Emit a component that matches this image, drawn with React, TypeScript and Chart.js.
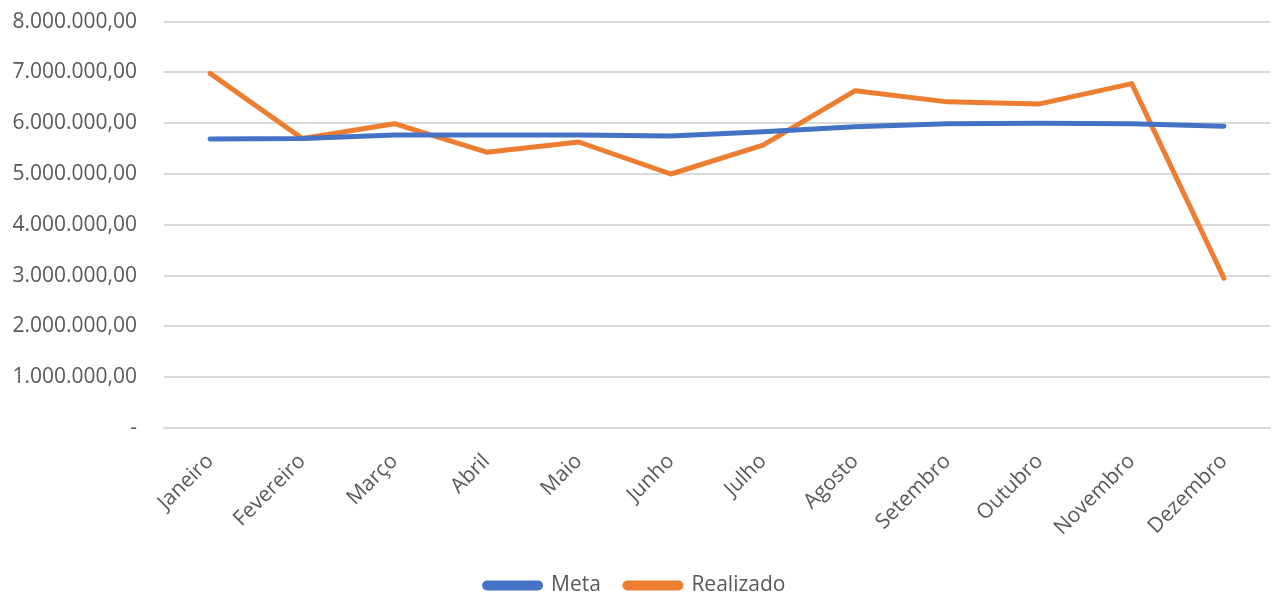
import React, { useEffect, useRef } from "react";
import { Chart, registerables } from "chart.js";

Chart.register(...registerables);

const months = ["Janeiro", "Fevereiro", "Março", "Abril", "Maio", "Junho", "Julho", "Agosto", "Setembro", "Outubro", "Novembro", "Dezembro"];
const meta = [5690000, 5700000, 5770000, 5770000, 5770000, 5750000, 5830000, 5930000, 5990000, 6000000, 5990000, 5940000];
const realizado = [6980000, 5700000, 5990000, 5430000, 5630000, 5000000, 5570000, 6640000, 6420000, 6380000, 6780000, 2950000];
const yMax = 8000000;
const yStep = 1000000;

const fmt = (v: number) =>
  v === 0
    ? "-"
    : v.toLocaleString("pt-BR", { minimumFractionDigits: 2, maximumFractionDigits: 2 });

export default function App() {
  const ref = useRef<HTMLCanvasElement | null>(null);
  useEffect(() => {
    if (!ref.current) return;
    const font = { family: "'Open Sans', sans-serif", size: 21 };
    const chart = new Chart(ref.current, {
      type: "line",
      data: {
        labels: months,
        datasets: [
          {
            label: "Meta",
            data: meta,
            borderColor: "#4472C4",
            backgroundColor: "#4472C4",
            borderWidth: 5,
            pointRadius: 0,
            tension: 0,
            borderCapStyle: "round",
            borderJoinStyle: "round",
          },
          {
            label: "Realizado",
            data: realizado,
            borderColor: "#ED7D31",
            backgroundColor: "#ED7D31",
            borderWidth: 5,
            pointRadius: 0,
            tension: 0,
            borderCapStyle: "round",
            borderJoinStyle: "round",
          },
        ],
      },
      options: {
        animation: false,
        responsive: false,
        layout: { padding: { left: 0, right: 8, top: 0, bottom: 0 } },
        plugins: {
          tooltip: { enabled: false },
          legend: {
            position: "bottom",
            labels: {
              font,
              color: "#595959",
              boxWidth: 56,
              boxHeight: 5,
              padding: 24,
              useBorderRadius: true,
              borderRadius: 2.5,
            },
          },
        },
        scales: {
          x: {
            offset: true,
            grid: { display: false, drawTicks: false },
            border: { display: true, color: "#d9d9d9", width: 2 },
            ticks: {
              font,
              color: "#595959",
              maxRotation: 45,
              minRotation: 45,
              autoSkip: false,
              padding: 21,
            },
            afterFit: (s: any) => {
              s.height = 123;
            },
          },
          y: {
            min: 0,
            max: yMax,
            grid: { color: "#d9d9d9", lineWidth: 2, drawTicks: false },
            border: { display: false },
            ticks: {
              stepSize: yStep,
              font,
              color: "#595959",
              padding: 27,
              callback: (v: any) => fmt(Number(v)),
            },
            afterFit: (s: any) => {
              s.width = 164;
            },
          },
        },
      },
    } as any);
    return () => chart.destroy();
  }, []);
  return (
    <div style={{ position: "fixed", left: 0, top: 0, width: 1278, height: 600, background: "#fff", overflow: "hidden" }}>
      <canvas ref={ref} width={1278} height={624} style={{ position: "absolute", left: 0, top: -18 }} />
    </div>
  );
}
